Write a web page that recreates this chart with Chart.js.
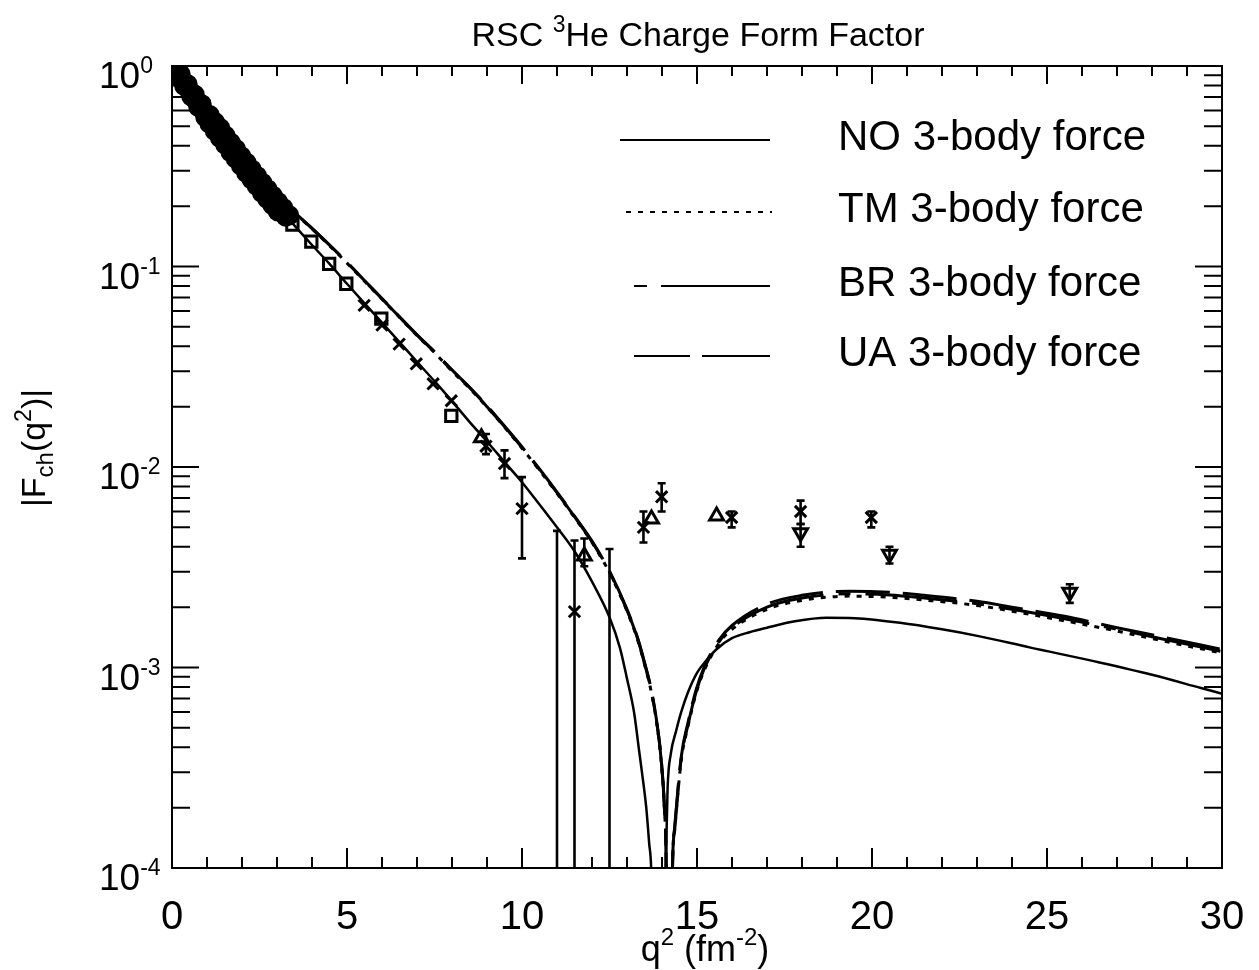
<!DOCTYPE html>
<html><head><meta charset="utf-8">
<script src="https://cdn.jsdelivr.net/npm/chart.js@4.4.1/dist/chart.umd.min.js"></script>
<style>html,body{margin:0;padding:0;background:#fff}#wrap{width:1259px;height:970px}</style>
</head><body><div id="wrap"><canvas id="c" width="1259" height="970"></canvas></div>
<script>
// ---------- axis ticks ----------
const xMajorTicks = [0, 5, 10, 15, 20, 25, 30];
const xTickLabels = ['0', '5', '10', '15', '20', '25', '30'];
const yDecades = [1, 0.1, 0.01, 0.001, 0.0001];
const yDecadeExp = ['0', '-1', '-2', '-3', '-4'];

// ---------- theory curves: q^2 (fm^-2) and |F_ch| ----------
const q2NO = [0, 0.5, 1, 1.5, 2, 2.5, 3, 3.5, 4, 4.5, 5, 5.5, 6, 6.5, 7, 7.5, 8, 8.5, 9, 9.5, 10, 10.5, 11, 11.5, 12, 12.5, 12.8, 13.0, 13.2, 13.35, 13.45, 13.55, 13.63, 13.7, 13.9, 14.1, 14.13, 14.16, 14.25, 14.4, 14.55, 14.74, 15.0, 15.2, 15.55, 16.0, 16.5, 17.0, 17.8, 18.7, 19.5, 20.8, 22, 23.08, 24.5, 26.5, 28, 29.4, 30];
const fNO  = [1.0, 0.749, 0.562, 0.426, 0.331, 0.257, 0.2, 0.16, 0.128, 0.103, 0.082, 0.0655, 0.0525, 0.042, 0.0335, 0.0268, 0.0213, 0.0168, 0.0134, 0.0106, 0.0084, 0.0065, 0.005, 0.0038, 0.00268, 0.00178, 0.00125, 0.00088, 0.0006, 0.00038, 0.00028, 0.0002, 0.000135, 0.00009, 0.000001, 0.00008, 0.00015, 0.00025, 0.00037, 0.00048, 0.0006, 0.00075, 0.00094, 0.00105, 0.00123, 0.0014, 0.0015, 0.00158, 0.0017, 0.00177, 0.00176, 0.00167, 0.00155, 0.00143, 0.00126, 0.00106, 0.00092, 0.00079, 0.00074];

const q2TBR = [0, 0.5, 1, 1.5, 2, 2.5, 3, 3.5, 4, 4.5, 5, 5.5, 6, 6.5, 7, 7.5, 8, 8.5, 9, 9.5, 10, 10.5, 11, 11.5, 12, 12.5, 13, 13.3, 13.5, 13.69, 13.85, 13.97, 14.07, 14.12, 14.2, 14.3, 14.36, 14.55, 14.75, 14.98, 15.2, 15.64, 16, 17, 18, 19.36, 20.5, 21.5, 23, 24, 25.5, 27, 28.2, 30];
const fUA = [1.0, 0.75, 0.569, 0.437, 0.343, 0.275, 0.226, 0.186, 0.155, 0.128, 0.105, 0.0851, 0.0692, 0.0562, 0.0457, 0.0376, 0.0305, 0.025, 0.0202, 0.016, 0.0126, 0.00977, 0.0075, 0.00569, 0.00427, 0.00302, 0.00195, 0.00141, 0.00106, 0.00078, 0.000537, 0.000359, 0.0002, 0.0001, 0.000001, 0.0001, 0.000158, 0.000359, 0.000537, 0.00078, 0.001, 0.00138, 0.00162, 0.00207, 0.00229, 0.0024, 0.00237, 0.00229, 0.00214, 0.002, 0.0018, 0.00158, 0.00143, 0.00123];
const fBR = [1.0, 0.75, 0.569, 0.437, 0.343, 0.275, 0.226, 0.186, 0.155, 0.128, 0.105, 0.0849, 0.069, 0.056, 0.0455, 0.0374, 0.0303, 0.0249, 0.02, 0.0159, 0.0125, 0.0097, 0.00745, 0.00565, 0.00424, 0.003, 0.00193, 0.0014, 0.00105, 0.00077, 0.00053, 0.000355, 0.000198, 0.0001, 0.000001, 0.0001, 0.000155, 0.000352, 0.000525, 0.00076, 0.00098, 0.00135, 0.00158, 0.002, 0.00222, 0.00233, 0.0023, 0.00222, 0.00208, 0.00195, 0.00175, 0.00155, 0.0014, 0.0012];
const fTM = [1.0, 0.75, 0.568, 0.436, 0.342, 0.274, 0.225, 0.185, 0.154, 0.127, 0.104, 0.0845, 0.0687, 0.0558, 0.0453, 0.0372, 0.0301, 0.0247, 0.0199, 0.0158, 0.0124, 0.00962, 0.00739, 0.0056, 0.0042, 0.00297, 0.00191, 0.00138, 0.00104, 0.00076, 0.000525, 0.00035, 0.000195, 0.0001, 0.000001, 0.0001, 0.000152, 0.000345, 0.000515, 0.00075, 0.00096, 0.00133, 0.00155, 0.00195, 0.00216, 0.00227, 0.00224, 0.00217, 0.00204, 0.00191, 0.00171, 0.00152, 0.00137, 0.00118];

// ---------- experimental data ----------
const q2Circ = [0, 0.1, 0.2, 0.3, 0.4, 0.5, 0.6, 0.7, 0.8, 0.9, 1.0, 1.15, 1.3, 1.45, 1.6, 1.75, 1.9, 2.05, 2.2, 2.35, 2.5, 2.65, 2.8, 2.95, 3.1, 3.25];
const fCirc  = [1.0, 0.944, 0.891, 0.841, 0.794, 0.749, 0.708, 0.668, 0.631, 0.596, 0.562, 0.517, 0.475, 0.437, 0.403, 0.372, 0.344, 0.318, 0.294, 0.272, 0.257, 0.238, 0.221, 0.205, 0.19, 0.177];
const q2Circ2 = [0.05, 0.25, 0.45, 0.65, 0.85, 1.08, 1.23, 1.38, 1.53, 1.68, 1.83, 1.98, 2.13, 2.28, 2.43, 2.58, 2.73, 2.88, 3.03, 3.18, 3.35];
const fCirc2  = [1.02, 0.91, 0.81, 0.72, 0.645, 0.57, 0.525, 0.49, 0.45, 0.415, 0.385, 0.355, 0.33, 0.305, 0.283, 0.262, 0.243, 0.226, 0.21, 0.196, 0.18];
const q2Circ3 = [0.15, 0.35, 0.55, 0.75, 0.95, 1.07, 1.22, 1.37, 1.52, 1.67, 1.82, 1.97, 2.12, 2.27, 2.42, 2.57, 2.72, 2.87, 3.02];
const fCirc3  = [0.895, 0.795, 0.705, 0.625, 0.555, 0.515, 0.475, 0.438, 0.405, 0.372, 0.345, 0.318, 0.293, 0.272, 0.252, 0.233, 0.217, 0.202, 0.188];

const q2Sq = [3.44, 3.98, 4.49, 4.98, 5.98, 7.98];
const fSq  = [0.162, 0.133, 0.103, 0.082, 0.055, 0.018];

const q2Cross = [5.49, 6.0, 6.49, 6.98, 7.46, 7.98, 8.97, 9.5, 10.0, 11.5, 13.47, 13.99, 15.99, 17.96, 19.98];
const fCross  = [0.064, 0.051, 0.041, 0.0327, 0.026, 0.0214, 0.0127, 0.0104, 0.0062, 0.0019, 0.005, 0.0071, 0.0056, 0.006, 0.0056];
const crossHi = [null, null, null, null, null, null, 0.0146, 0.0121, 0.0089, 0.0043, 0.006, 0.0083, 0.006, 0.0068, 0.006];
const crossLo = [null, null, null, null, null, null, 0.0116, 0.0088, 0.0035, 0.00001, 0.0042, 0.006, 0.005, 0.0052, 0.005];

const q2Bar = [11.0, 12.5];
const fBar  = [0.0006, 0.0018];
const barHi = [0.0048, 0.0039];
const barLo = [0.00001, 0.00001];

const q2TriUp = [8.84, 11.78, 13.7, 15.56];
const fTriUp  = [0.014, 0.0036, 0.0055, 0.0057];
const triUpHi = [null, 0.0044, null, null];
const triUpLo = [null, 0.0032, null, null];

const q2TriDn = [17.96, 20.5, 25.65];
const fTriDn  = [0.0047, 0.00367, 0.00237];
const triDnHi = [0.0052, 0.004, 0.0026];
const triDnLo = [0.004, 0.0033, 0.0021];

const pts = (xs, ys) => xs.map((x, i) => ({x: x, y: ys[i]}));
const FONT = '"Liberation Sans", Arial, sans-serif';

function curve(label, xs, ys, dash, w) {
  return {label: label, data: pts(xs, ys), showLine: true, pointRadius: 0, borderColor: '#000',
          borderWidth: w, borderDash: dash, fill: false, cubicInterpolationMode: 'monotone', order: 2};
}
function marks(label, xs, ys, style, r, filled, rot, hi, lo) {
  return {label: label, data: pts(xs, ys), showLine: false, pointStyle: style, pointRadius: r,
          pointBorderWidth: 3, pointBorderColor: '#000', pointBackgroundColor: filled ? '#000' : 'rgba(0,0,0,0)',
          pointRotation: rot || 0, errHi: hi, errLo: lo, order: 1};
}

const legendItems = [
  {text: 'NO 3-body force', y: 140, dash: [], segs: [[620, 770]]},
  {text: 'TM 3-body force', y: 212, dash: [5, 7], segs: [[626, 772]]},
  {text: 'BR 3-body force', y: 286, dash: [], segs: [[634, 647], [661, 770]]},
  {text: 'UA 3-body force', y: 356, dash: [], segs: [[634, 690], [702, 770]]}
];

function drawRich(ctx, parts, x, y) {
  let cx = x;
  for (const p of parts) {
    ctx.font = p[1] + 'px ' + FONT;
    ctx.fillText(p[0], cx, y + p[2]);
    cx += ctx.measureText(p[0]).width;
  }
  return cx - x;
}
function richWidth(ctx, parts) {
  let w = 0;
  for (const p of parts) { ctx.font = p[1] + 'px ' + FONT; w += ctx.measureText(p[0]).width; }
  return w;
}

const decor = {
  id: 'decor',
  afterDatasetsDraw(chart) {
    const ctx = chart.ctx, a = chart.chartArea, xs = chart.scales.x, ys = chart.scales.y;
    ctx.save();
    ctx.beginPath(); ctx.rect(a.left, a.top, a.right - a.left, a.bottom - a.top); ctx.clip();
    ctx.strokeStyle = '#000'; ctx.lineWidth = 2.6;
    chart.data.datasets.forEach(ds => {
      if (!ds.errHi) return;
      ds.data.forEach((p, i) => {
        const hi = ds.errHi[i], lo = ds.errLo[i];
        if (hi == null) return;
        const px = xs.getPixelForValue(p.x), yh = ys.getPixelForValue(hi), yl = ys.getPixelForValue(lo);
        ctx.beginPath(); ctx.moveTo(px, yh); ctx.lineTo(px, yl);
        ctx.moveTo(px - 4, yh); ctx.lineTo(px + 4, yh);
        ctx.moveTo(px - 4, yl); ctx.lineTo(px + 4, yl);
        ctx.stroke();
      });
    });
    ctx.restore();
  },
  afterDraw(chart) {
    const ctx = chart.ctx, a = chart.chartArea, xs = chart.scales.x, ys = chart.scales.y;
    ctx.save();
    ctx.strokeStyle = '#000'; ctx.fillStyle = '#000'; ctx.lineWidth = 2;
    ctx.strokeRect(a.left, a.top, a.right - a.left, a.bottom - a.top);
    ctx.beginPath();
    for (let v = xs.min; v <= xs.max; v += 1) {
      const px = xs.getPixelForValue(v);
      const major = xMajorTicks.includes(v);
      const lb = major ? 20 : 11, lt = major ? 18 : 10;
      ctx.moveTo(px, a.bottom); ctx.lineTo(px, a.bottom - lb);
      ctx.moveTo(px, a.top); ctx.lineTo(px, a.top + lt);
    }
    yDecades.forEach(d => {
      const py = ys.getPixelForValue(d);
      ctx.moveTo(a.left, py); ctx.lineTo(a.left + 27, py);
      ctx.moveTo(a.right, py); ctx.lineTo(a.right - 27, py);
    });
    yDecades.slice(1).forEach(d => {
      for (let k = 2; k <= 9; k++) {
        const py = ys.getPixelForValue(d * k);
        ctx.moveTo(a.left, py); ctx.lineTo(a.left + 18, py);
        ctx.moveTo(a.right, py); ctx.lineTo(a.right - 18, py);
      }
    });
    ctx.stroke();

    ctx.textBaseline = 'alphabetic';
    ctx.textAlign = 'center';
    ctx.font = '40px ' + FONT;
    xMajorTicks.forEach((v, i) => ctx.fillText(xTickLabels[i], xs.getPixelForValue(v), 929));
    ctx.textAlign = 'left';
    yDecades.forEach((d, i) => {
      const py = ys.getPixelForValue(d);
      drawRich(ctx, [['10', 37, 0], [yDecadeExp[i], 23, -15]], 99, py + 22);
    });
    const xt = [['q', 36, 0], ['2', 24, -16], [' (fm', 36, 0], ['-2', 24, -16], [')', 36, 0]];
    const xw = richWidth(ctx, xt);
    drawRich(ctx, xt, 705 - xw / 2, 961);
    const yt = [['|F', 34, 0], ['ch', 24, 8], ['(q', 34, 0], ['2', 23, -14], [')|', 34, 0]];
    const yw = richWidth(ctx, yt);
    ctx.save(); ctx.translate(45, 448 + yw / 2); ctx.rotate(-Math.PI / 2);
    drawRich(ctx, yt, 0, 0);
    ctx.restore();
    const tt = [['RSC ', 34, 0], ['3', 23, -14], ['He Charge Form Factor', 34, 0]];
    const tw = richWidth(ctx, tt);
    drawRich(ctx, tt, 698 - tw / 2, 46);
    legendItems.forEach(it => {
      ctx.lineWidth = 2; ctx.setLineDash(it.dash);
      ctx.beginPath();
      it.segs.forEach(s => { ctx.moveTo(s[0], it.y); ctx.lineTo(s[1], it.y); });
      ctx.stroke();
      ctx.setLineDash([]);
      ctx.font = '42px ' + FONT; ctx.textAlign = 'left';
      ctx.fillText(it.text, 838, it.y + 10);
    });
    ctx.restore();
  }
};

new Chart(document.getElementById('c').getContext('2d'), {
  type: 'scatter',
  data: {datasets: [
    curve('NO 3-body force', q2NO, fNO, [], 2.5),
    curve('TM 3-body force', q2TBR, fTM, [5, 7], 3),
    curve('BR 3-body force', q2TBR, fBR, [12, 15, 92, 15], 3),
    curve('UA 3-body force', q2TBR, fUA, [54, 13], 3),
    marks('data circles', q2Circ, fCirc, 'circle', 8.5, true),
    marks('data circles 2', q2Circ2, fCirc2, 'circle', 8.5, true),
    marks('data circles 3', q2Circ3, fCirc3, 'circle', 8.5, true),
    marks('data squares', q2Sq, fSq, 'rect', 8, false),
    marks('data crosses', q2Cross, fCross, 'crossRot', 8, false, 0, crossHi, crossLo),
    marks('data bars', q2Bar, fBar, 'circle', 0, false, 0, barHi, barLo),
    marks('data triangles up', q2TriUp, fTriUp, 'triangle', 8, false, 0, triUpHi, triUpLo),
    marks('data triangles down', q2TriDn, fTriDn, 'triangle', 8, false, 180, triDnHi, triDnLo)
  ]},
  options: {
    responsive: false, animation: false,
    layout: {padding: {left: 172, right: 37, top: 66, bottom: 102}},
    plugins: {legend: {display: false}, title: {display: false}, tooltip: {enabled: false}},
    scales: {
      x: {type: 'linear', min: 0, max: 30, ticks: {display: false}, grid: {display: false, drawTicks: false}, border: {display: false}},
      y: {type: 'logarithmic', min: 0.0001, max: 1, ticks: {display: false}, grid: {display: false, drawTicks: false}, border: {display: false}}
    }
  },
  plugins: [decor]
});
</script>
</body></html>
